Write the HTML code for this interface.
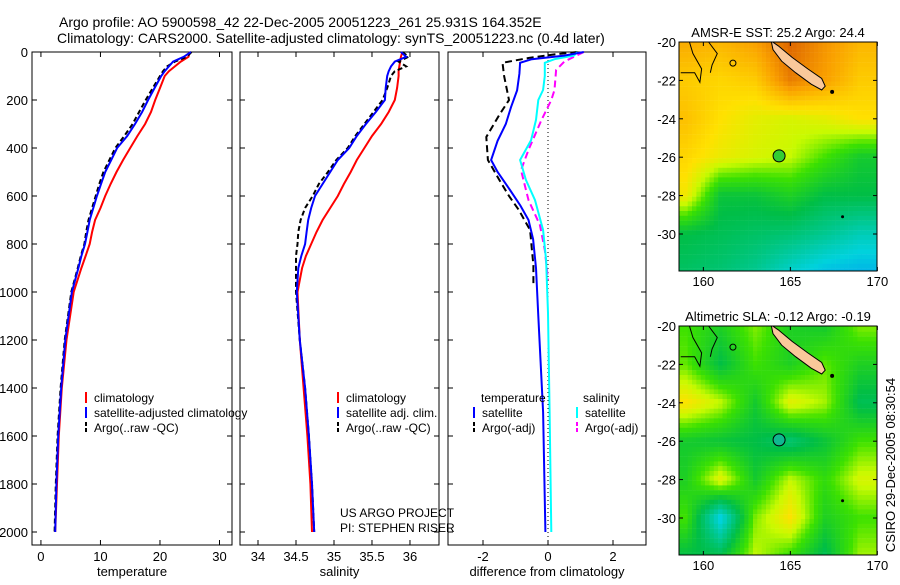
<!DOCTYPE html>
<html><head><meta charset="utf-8"><style>
body{margin:0;background:#fff;}
svg{font-family:"Liberation Sans",sans-serif;}
</style></head><body>
<svg id="fig" width="900" height="580" viewBox="0 0 900 580">
<text x="59" y="27" font-size="14">Argo profile: AO 5900598_42 22-Dec-2005 20051223_261 25.931S 164.352E</text>
<text x="57" y="43" font-size="14">Climatology: CARS2000. Satellite-adjusted climatology: synTS_20051223.nc (0.4d later)</text>
<g id="g"></g>
</svg>
<script>
// ---- data ----
const depthGrid=[0,20,40,60,80,100,150,200,250,300,350,400,450,500,550,600,650,700,750,800,850,900,1000,1200,1400,1600,1800,2000];
const tempClim=[25,24.8,23.5,22.5,21.5,20.8,20,19.2,18.5,17.5,16.2,15,13.8,12.7,11.7,10.8,10,9.1,8.6,8.2,7.5,6.8,5.5,4.3,3.5,3.0,2.7,2.4];
const tempSat=[25.2,24,22.2,21.5,20.8,20.2,19.1,18,17,15.8,14.5,12.8,11.8,10.8,10.1,9.4,8.8,8.2,7.8,7.4,6.8,6.3,5.2,4.1,3.4,2.9,2.6,2.4];
const tempArgo=[25.3,24.5,22.5,21.2,20.5,20.0,18.8,17.6,16.5,15.4,14,12.5,11.5,10.5,9.8,9.2,8.6,8.0,7.6,7.3,6.7,6.2,5.1,4.0,3.3,2.8,2.5,2.3];
const salClim=[35.9,35.88,35.87,35.86,35.85,35.85,35.83,35.8,35.72,35.62,35.5,35.4,35.3,35.22,35.13,35.05,34.95,34.85,34.77,34.7,34.63,34.58,34.52,34.55,34.6,34.65,34.69,34.71];
const salSat=[35.88,35.95,35.8,35.75,35.72,35.7,35.68,35.67,35.55,35.42,35.3,35.2,35.05,34.95,34.85,34.75,34.7,34.66,34.64,34.62,34.57,34.53,34.51,34.55,34.62,34.67,34.71,34.74];
const salArgo=[35.9,35.98,35.85,35.95,35.8,35.75,35.7,35.64,35.52,35.4,35.28,35.18,35.03,34.92,34.8,34.72,34.62,34.56,34.53,34.52,34.5,34.5,34.5,34.55,34.62,34.67,34.71,34.74];
const tdSatDepth=[0,15,30,45,90,160,230,300,370,450,500,575,640,700,780,900,1100,1500,2000];
const tdSat=[1.1,0.5,-0.5,-0.86,-0.88,-0.95,-1.14,-1.3,-1.55,-1.75,-1.55,-1.17,-0.85,-0.6,-0.46,-0.37,-0.3,-0.15,-0.08];
const tdArgoDepth=[0,10,25,45,100,200,262,354,450,533,600,658,742,820,888,970];
const tdArgo=[0.9,0.2,-0.6,-1.4,-1.35,-1.2,-1.5,-1.9,-1.85,-1.5,-1.2,-0.9,-0.55,-0.5,-0.45,-0.45];
const sdSatDepth=[0,15,30,45,100,158,200,283,367,450,533,617,742,867,1087,1500,2000];
const sdSat=[0.9,0.8,0.2,-0.1,-0.1,-0.15,-0.3,-0.37,-0.52,-0.86,-0.68,-0.4,-0.15,-0.06,0,0.05,0.1];
const sdArgoDepth=[0,20,40,75,158,200,283,408,492,617,721,825,950];
const sdArgo=[1.1,0.8,0.5,0.25,0.2,0.1,-0.2,-0.6,-0.83,-0.6,-0.25,-0.1,0];
const depthTicks=[0,200,400,600,800,1000,1200,1400,1600,1800,2000];
const tempTicks=[0,10,20,30];
const salTicks=[34,34.5,35,35.5,36];
const diffTicks=[-2,0,2];
const lonTicks=[160,165,170];
const latTicks=[-20,-22,-24,-26,-28,-30];
const sstGrid=[[.78,.76,.80,.90,.82,.76],[.72,.70,.72,.86,.80,.72],[.74,.68,.64,.62,.64,.68],[.70,.65,.62,.60,.52,.44],[.66,.42,.42,.46,.40,.40],[.40,.38,.36,.34,.30,.25],[.36,.34,.30,.22,.16,.14]];
const slaGrid=[[.52,.46,.56,.46,.44,.56],[.54,.40,.52,.46,.54,.46],[.68,.60,.44,.64,.58,.38],[.44,.42,.40,.34,.42,.52],[.46,.64,.44,.60,.50,.62],[.52,.18,.56,.68,.46,.52],[.40,.40,.60,.50,.38,.58]];
const argoLon=164.352, argoLat=-25.931;

const NS="http://www.w3.org/2000/svg";
const G=document.getElementById('g');
function el(tag,attrs,parent){const e=document.createElementNS(NS,tag);for(const k in attrs)e.setAttribute(k,attrs[k]);(parent||G).appendChild(e);return e;}
const yD=d=>52+d*0.24;

function panel(name,x0,x1,xmin,xmax,xt,xlabel,showY){
  const X=v=>x0+(v-xmin)/(xmax-xmin)*(x1-x0);
  const f=el('rect',{x:x0,y:52,width:x1-x0,height:493,fill:'none',stroke:'#000','stroke-width':1});
  
  
  depthTicks.forEach(d=>{
    el('line',{x1:x0,x2:x0+5,y1:yD(d),y2:yD(d),stroke:'#000'});
    el('line',{x1:x1,x2:x1-5,y1:yD(d),y2:yD(d),stroke:'#000'});
    if(showY){const t=el('text',{x:x0-4,y:yD(d)+5,'font-size':13,'text-anchor':'end'});t.textContent=d;
      
      }
  });
  xt.forEach(v=>{
    el('line',{x1:X(v),x2:X(v),y1:52,y2:57,stroke:'#000'});
    el('line',{x1:X(v),x2:X(v),y1:545,y2:540,stroke:'#000'});
    const t=el('text',{x:X(v),y:561,'font-size':13,'text-anchor':'middle'});t.textContent=v;
    
    
  });
  const l=el('text',{x:(x0+x1)/2,y:576,'font-size':13,'text-anchor':'middle'});l.textContent=xlabel;
  
  
  return X;
}
function line(X,depths,vals,color,dash,name){
  const p=depths.map((d,i)=>(i?'L':'M')+X(vals[i]).toFixed(1)+','+yD(d).toFixed(1)).join('');
  const e=el('path',{d:p,fill:'none',stroke:color,'stroke-width':2});
  if(dash)e.setAttribute('stroke-dasharray',dash);
  
  
}
function legend(x,y,color,dash,text,name){
  const e=el('line',{x1:x,x2:x,y1:y-10,y2:y+1,stroke:color,'stroke-width':2});
  if(dash)e.setAttribute('stroke-dasharray',dash);
  const t=el('text',{x:x+8,y:y,'font-size':12});t.textContent=text;
  
  
}
// Panel 1
const X1=panel('temperature-panel',32,232,-1.5,32.1,tempTicks,'temperature',true);
line(X1,depthGrid,tempClim,'#f00',null,'temp-climatology-line');
line(X1,depthGrid,tempArgo,'#000','5,3','temp-argo-line');
line(X1,depthGrid,tempSat,'#00f',null,'temp-satellite-line');
legend(86,402,'#f00',null,'climatology','legend-climatology');
legend(86,417,'#00f',null,'satellite-adjusted climatology','legend-satellite');
legend(86,432,'#000','4,2','Argo(..raw -QC)','legend-argo');
// Panel 2
const X2=panel('salinity-panel',240,439,33.763,36.382,salTicks,'salinity',false);
line(X2,depthGrid,salClim,'#f00',null,'sal-climatology-line');
line(X2,depthGrid,salArgo,'#000','5,3','sal-argo-line');
line(X2,depthGrid,salSat,'#00f',null,'sal-satellite-line');
legend(338,402,'#f00',null,'climatology','legend-sal-climatology');
legend(338,417,'#00f',null,'satellite adj. clim.','legend-sal-satellite');
legend(338,432,'#000','4,2','Argo(..raw -QC)','legend-sal-argo');
const n1=el('text',{x:340,y:517,'font-size':12});n1.textContent='US ARGO PROJECT';


const n2=el('text',{x:340,y:532,'font-size':12});n2.textContent='PI: STEPHEN RISER';


// Panel 3
const X3=panel('difference-panel',448,646,-3.077,3.015,diffTicks,'difference from climatology',false);
el('line',{x1:X3(0),x2:X3(0),y1:52,y2:545,stroke:'#000','stroke-dasharray':'1,3'});
line(X3,tdArgoDepth,tdArgo,'#000','7,4','tdiff-argo-line');
line(X3,sdArgoDepth,sdArgo,'#f0f','7,4','sdiff-argo-line');
line(X3,sdSatDepth,sdSat,'#0ff',null,'sdiff-satellite-line');
line(X3,tdSatDepth,tdSat,'#00f',null,'tdiff-satellite-line');
const lt=el('text',{x:481,y:402,'font-size':12});lt.textContent='temperature';


const ls=el('text',{x:583,y:402,'font-size':12});ls.textContent='salinity';


legend(474,417,'#00f',null,'satellite','legend-tdiff-satellite');
legend(474,432,'#000','4,2','Argo(-adj)','legend-tdiff-argo');
legend(577,417,'#0ff',null,'satellite','legend-sdiff-satellite');
legend(577,432,'#f0f','4,2','Argo(-adj)','legend-sdiff-argo');

// ---- maps ----
const stops=[[0,[0,110,255]],[.2,[0,210,220]],[.4,[0,190,70]],[.52,[60,225,0]],[.6,[200,250,0]],[.68,[255,225,0]],[.8,[250,160,0]],[.92,[215,90,0]],[1,[160,30,0]]];
function cmap(v){v=Math.max(0,Math.min(1,v));for(let i=1;i<stops.length;i++){if(v<=stops[i][0]){const a=stops[i-1],b=stops[i],t=(v-a[0])/(b[0]-a[0]);return 'rgb('+a[1].map((c,k)=>Math.round(c+(b[1][k]-c)*t)).join(',')+')';}}return 'rgb(160,30,0)';}
function interp(grid,lon,lat){
  const c=(lon-159)/2, r=(-20-lat)/2;
  const cc=Math.max(0,Math.min(4.999,c)), rr=Math.max(0,Math.min(5.999,r));
  const i=Math.floor(rr), j=Math.floor(cc), fr=rr-i, fc=cc-j;
  return grid[i][j]*(1-fr)*(1-fc)+grid[i][j+1]*(1-fr)*fc+grid[i+1][j]*fr*(1-fc)+grid[i+1][j+1]*fr*fc;
}
function map(name,top,grid,title,dotColor){
  const L=679,R=877,B=top+229;
  const LX=lon=>L+(lon-158.6)*17.4, LY=lat=>top+(-20-lat)*19.2;
  const g=el('g',{});
  
  
  for(let lat=-19.8;lat>-32;lat-=0.25){for(let lon=158.6;lon<170;lon+=0.25){
    el('rect',{x:LX(lon).toFixed(1),y:LY(lat).toFixed(1),width:4.6,height:5,fill:cmap(interp(grid,lon+0.125,lat-0.125))},g);
  }}
  el('rect',{x:L,y:B,width:R-L+5,height:12,fill:'#fff'});
  el('rect',{x:L-5,y:top-6,width:4,height:240,fill:'#fff'});
  el('rect',{x:R,y:top-6,width:10,height:240,fill:'#fff'});
  el('rect',{x:L-5,y:top-12,width:210,height:12,fill:'#fff'});
  // island (thin, elongated)
  const isl=[[163.9,-19.95],[164.3,-20.2],[165.1,-20.8],[166.0,-21.4],[166.8,-21.9],[167.0,-22.3],[166.8,-22.5],[166.2,-22.2],[165.3,-21.6],[164.5,-21.0],[164.0,-20.4]];
  el('polygon',{points:isl.map(p=>LX(p[0]).toFixed(1)+','+LY(p[1]).toFixed(1)).join(' '),fill:'#fac89a',stroke:'#000','stroke-width':1},g);
  el('path',{d:`M${LX(158.7)},${LY(-21.6)} L${LX(159.5)},${LY(-21.6)} L${LX(159.8)},${LY(-22.1)} L${LX(159.9)},${LY(-21.4)} L${LX(159.4)},${LY(-20.6)} L${LX(159.2)},${LY(-20)}`,fill:'none',stroke:'#000','stroke-width':1},g);
  el('path',{d:`M${LX(160.3)},${LY(-20)} L${LX(160.8)},${LY(-20.6)} L${LX(160.5)},${LY(-21.2)} L${LX(160.4)},${LY(-21.6)}`,fill:'none',stroke:'#000','stroke-width':1},g);
  el('circle',{cx:LX(161.7),cy:LY(-21.1),r:3,fill:'none',stroke:'#000'},g);
  el('circle',{cx:LX(167.4),cy:LY(-22.6),r:2,fill:'#000'},g);
  el('circle',{cx:LX(168.0),cy:LY(-29.1),r:1.5,fill:'#000'},g);
  const dot=el('circle',{cx:LX(argoLon),cy:LY(argoLat),r:6,fill:dotColor,stroke:'#000','stroke-width':1},g);
  
  
  el('rect',{x:L,y:top,width:R-L,height:B-top,fill:'none',stroke:'#000'});
  lonTicks.forEach(v=>{el('line',{x1:LX(v),x2:LX(v),y1:B,y2:B-4,stroke:'#000'});el('line',{x1:LX(v),x2:LX(v),y1:top,y2:top+4,stroke:'#000'});
    const t=el('text',{x:LX(v),y:B+15,'font-size':13,'text-anchor':'middle'});t.textContent=v;
    
    });
  latTicks.forEach(v=>{el('line',{x1:L,x2:L+4,y1:LY(v),y2:LY(v),stroke:'#000'});el('line',{x1:R,x2:R-4,y1:LY(v),y2:LY(v),stroke:'#000'});
    const t=el('text',{x:L-3,y:LY(v)+5,'font-size':13,'text-anchor':'end'});t.textContent=v;
    
    });
  const tt=el('text',{x:(L+R)/2,y:top-5,'font-size':13,'text-anchor':'middle'});tt.textContent=title;
  
  
}
map('sst-map',42,sstGrid,'AMSR-E SST: 25.2 Argo: 24.4','#33cc33');
map('sla-map',326,slaGrid,'Altimetric SLA: -0.12 Argo: -0.19','#10b890');
const cs=el('text',{x:0,y:0,'font-size':13,'text-anchor':'middle',transform:'translate(895,465) rotate(-90)'});cs.textContent='CSIRO 29-Dec-2005 08:30:54';


</script>
</body></html>
